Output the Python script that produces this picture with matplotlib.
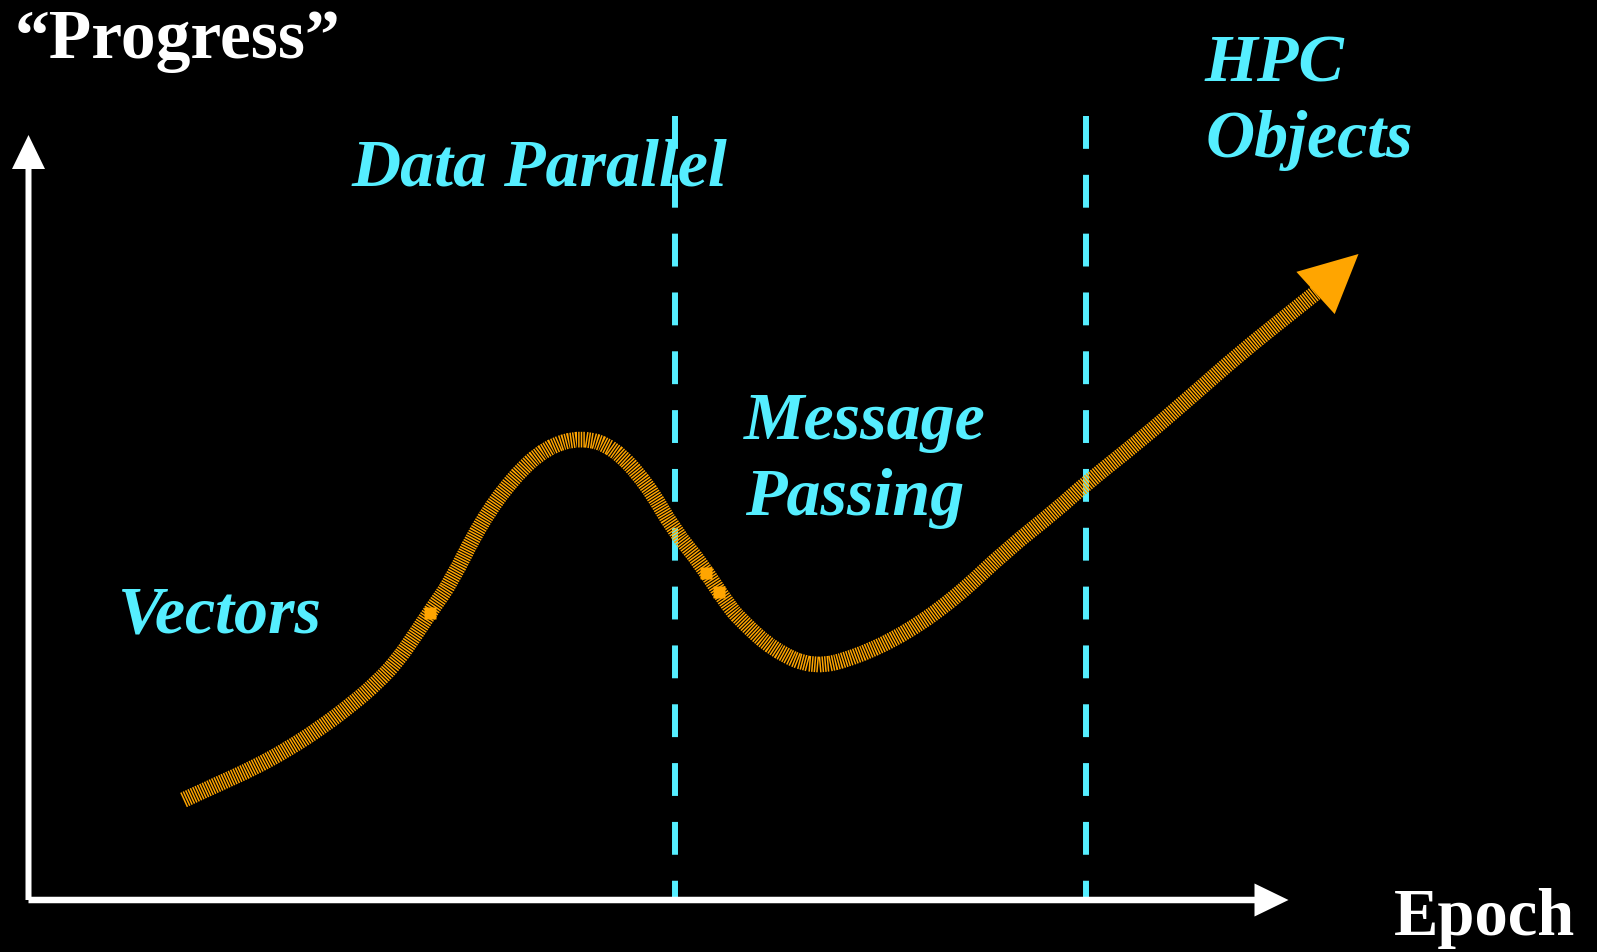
import matplotlib
matplotlib.use("Agg")
import matplotlib.pyplot as plt
from matplotlib.path import Path
from matplotlib.patches import PathPatch

# ---- data (axis units: 1 unit = 10 px, origin at the axis corner) ----
# the "progress" curve through the four epochs
curve_x = [15.5, 19.2, 22.5, 25.8, 29.2, 32.5, 34.8, 36.8, 38.8, 40.5, 42.2,
           45.2, 48.5, 51.8, 55.3, 58.5, 61.8, 64.6, 67.2, 69.8, 71.2, 74.5,
           78.5, 82.8, 87.8, 92.8, 97.8, 102.8, 105.8, 111.2, 116.2, 121.2,
           126.2, 128.7]
curve_y = [10.0, 11.7, 13.2, 15.0, 17.2, 19.7, 21.7, 23.8, 26.7, 29.3, 31.7,
           37.7, 42.3, 45.3, 46.3, 45.3, 41.7, 36.9, 33.7, 29.7, 28.0, 25.0,
           23.2, 24.3, 26.7, 30.3, 35.0, 39.0, 41.7, 46.0, 50.3, 54.7,
           58.7, 60.7]
arrow_tip = (133.0, 64.6)

# small solid blocks sitting on the curve
knot_x = [40.1, 67.7, 69.0]
knot_y = [28.7, 32.7, 30.8]

# epoch boundaries
epoch_bounds = [64.65, 105.75]
bound_top = 78.4

# axis extents
x_axis_end = 126.0
y_axis_end = 76.5

# labels: (text, x, y)
epoch_labels = [
    ("Vectors", 8.85, 26.8),
    ("Data Parallel", 32.3, 71.4),
    ("Message", 71.55, 46.1),
    ("Passing", 71.7, 38.5),
    ("HPC", 117.6, 81.9),
    ("Objects", 117.7, 74.3),
]
y_title = ("\u201cProgress\u201d", -1.4, 84.2)
x_title = ("Epoch", 136.5, -3.5)

# ---- styling ----
BG = "black"
CYAN = "#55EEFF"
ORANGE = "#FFA500"
WHITE = "white"
SERIF = ["Liberation Serif", "DejaVu Serif"]

fig = plt.figure(figsize=(15.97, 9.52), dpi=100, facecolor=BG)
ax = fig.add_axes([0, 0, 1, 1])
ax.set_facecolor(BG)
ax.set_xlim(-2.85, 156.85)
ax.set_ylim(-5.2, 90.0)
ax.set_aspect("equal")
ax.axis("off")

# axes arrows
ax.arrow(0, 0, x_axis_end, 0, width=0.65, head_width=3.3, head_length=3.4,
         length_includes_head=True, color=WHITE, lw=0, zorder=3)
ax.arrow(0, 0, 0, y_axis_end, width=0.6, head_width=3.3, head_length=3.4,
         length_includes_head=True, color=WHITE, lw=0, zorder=3)

# dashed epoch boundaries
for xb in epoch_bounds:
    ax.plot([xb, xb], [bound_top, 0], color=CYAN, lw=4.3,
            dashes=(5.5, 4.35), solid_capstyle="butt", dash_capstyle="butt",
            zorder=2)

# smooth path through the curve points (quadratic segments between midpoints)
pts = list(zip(curve_x, curve_y))
verts = [pts[0]]
codes = [Path.MOVETO]
mid = lambda a, b: ((a[0] + b[0]) / 2, (a[1] + b[1]) / 2)
verts.append(mid(pts[0], pts[1]))
codes.append(Path.LINETO)
for i in range(1, len(pts) - 1):
    verts += [pts[i], mid(pts[i], pts[i + 1])]
    codes += [Path.CURVE3, Path.CURVE3]
verts.append(pts[-1])
codes.append(Path.LINETO)

# hatched progress band: perpendicular stripes from a very fine dash pattern
band_lw = 11.3
on_pt, off_pt = 1.5 * 0.72, 1.1 * 0.72
band = PathPatch(Path(verts, codes), facecolor="none", edgecolor=ORANGE,
                 lw=band_lw, linestyle=(0, (on_pt / band_lw, off_pt / band_lw)),
                 capstyle="butt", joinstyle="round", zorder=4)
ax.add_patch(band)
ax.plot(knot_x, knot_y, ls="none", marker="s", ms=9, color=ORANGE,
        mec="none", zorder=5)

# arrowhead at the end of the curve
bx, by = curve_x[-1], curve_y[-1]
ax.arrow(bx, by, arrow_tip[0] - bx, arrow_tip[1] - by, width=0.0,
         head_width=5.7, head_length=5.8, length_includes_head=True,
         color=ORANGE, lw=0, zorder=6)

# labels
for txt, x, y in epoch_labels:
    ax.text(x, y, txt, color=CYAN, fontsize=49, fontweight="bold",
            fontstyle="italic", family=SERIF, ha="left", va="baseline",
            zorder=7)
ax.text(y_title[1], y_title[2], y_title[0], color=WHITE, fontsize=50,
        fontweight="bold", family=SERIF, ha="left", va="baseline")
ax.text(x_title[1], x_title[2], x_title[0], color=WHITE, fontsize=48,
        fontweight="bold", family=SERIF, ha="left", va="baseline")

fig.savefig("out.png", dpi=100, facecolor=BG)
